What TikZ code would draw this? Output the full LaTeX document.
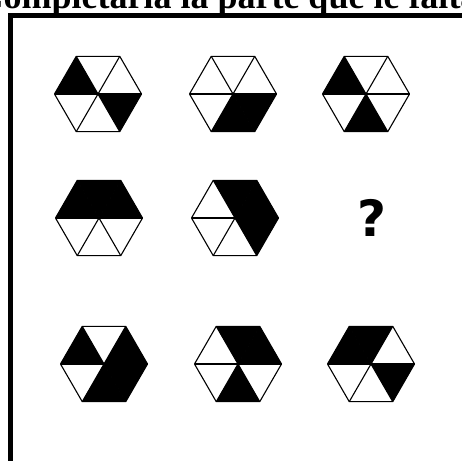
\documentclass[tikz,border=0pt]{standalone}
\usepackage{fontspec}
\setmainfont{Liberation Serif}
\newfontfamily\qfont{DejaVu Sans}
\usepackage{tikz}
\usetikzlibrary{positioning, calc}

% one hexagon: centre, list of black sectors (0 = upper right, counter-clockwise)
\newcommand{\hexpiece}[3]{%
  \foreach \k in {#3} {
    \fill[black] (#1,#2) -- ($(#1,#2)+(60*\k:43.5)$) -- ($(#1,#2)+(60*\k+60:43.5)$) -- cycle;
  }
  \draw[hexline] ($(#1,#2)+(0:43.5)$) \foreach \a in {60,120,...,300} { -- ($(#1,#2)+(\a:43.5)$) } -- cycle;
  \foreach \a in {0,60,120} {
    \draw[hexline] ($(#1,#2)+(\a:43.5)$) -- ($(#1,#2)+(\a+180:43.5)$);
  }
}

\begin{document}
\begin{tikzpicture}[x=1pt, y=1pt,
    hexline/.style={line width=1.1pt, line join=round},
    framestyle/.style={line width=5pt}]

  \useasboundingbox (0,0) rectangle (462,460);
  \clip (0,0) rectangle (462,460);

  \node[font=\fontsize{36}{40}\selectfont\bfseries, anchor=base] (title) at (228,451)
  {Completarla la parte que le falta};

  \draw[framestyle] (10.5,-10) -- (10.5,444.5) -- (480,444.5);

  % first row
  \hexpiece{98}{366}{2,5}
  \hexpiece{233}{366}{4,5}
  \hexpiece{366}{366}{2,4}

  % second row
  \hexpiece{99}{242}{0,1,2}
  \hexpiece{235}{242}{0,1,5}
  \node[font=\qfont\fontsize{50}{50}\selectfont\bfseries, inner sep=0pt] (missing) at (372,242) {?};

  % third row
  \hexpiece{104}{96}{0,2,4,5}
  \hexpiece{238}{96}{0,1,4}
  \hexpiece{371}{96}{1,2,5}

\end{tikzpicture}
\end{document}
